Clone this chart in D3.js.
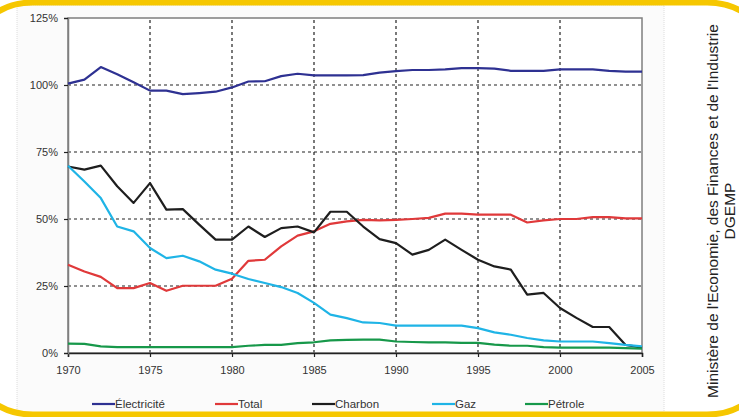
<!DOCTYPE html>
<html>
<head>
<meta charset="utf-8">
<script src="https://cdn.jsdelivr.net/npm/d3@7"></script>
<style>
  html, body { margin: 0; padding: 0; background: #ffffff; }
  svg { display: block; }
</style>
</head>
<body>
<script>
// Years and series (share, in %)
const years = d3.range(1970, 2006);
const electricite = [100.5, 102, 106.7, 104, 101, 97.9, 97.9, 96.6, 97, 97.5, 99.1, 101.3, 101.4, 103.3, 104.2, 103.6, 103.6, 103.6, 103.7, 104.6, 105.2, 105.6, 105.6, 105.8, 106.3, 106.3, 106.1, 105.3, 105.3, 105.3, 105.8, 105.8, 105.8, 105.3, 105, 105];
const total = [32.9, 30.4, 28.4, 24.2, 24.2, 26.1, 23.2, 25.1, 25.1, 25.1, 27.7, 34.4, 34.8, 39.8, 43.8, 45.4, 48.2, 49.1, 49.7, 49.5, 49.7, 50, 50.4, 52, 52, 51.6, 51.6, 51.6, 48.7, 49.5, 50, 50, 50.7, 50.7, 50.2, 50.2];
const charbon = [69.6, 68.4, 69.9, 62.2, 56, 63.4, 53.5, 53.7, 47.9, 42.3, 42.3, 47.2, 43.3, 46.6, 47.2, 45, 52.7, 52.7, 47.2, 42.5, 41, 36.7, 38.5, 42.3, 38.5, 34.8, 32.3, 31.1, 21.8, 22.4, 16.8, 13.1, 9.7, 9.7, 3, 2];
const gaz = [69.9, 64, 57.8, 47.2, 45.4, 39.2, 35.4, 36.3, 34.2, 31.1, 29.6, 27.6, 26.1, 24.6, 22.4, 18.7, 14.3, 13, 11.4, 11.2, 10.2, 10.2, 10.2, 10.2, 10.2, 9.3, 7.7, 6.8, 5.6, 4.7, 4.3, 4.3, 4.3, 3.7, 3, 2.5];
const petrole = [3.5, 3.4, 2.5, 2.2, 2.2, 2.2, 2.2, 2.2, 2.2, 2.2, 2.2, 2.7, 3, 3, 3.7, 4, 4.7, 4.9, 5, 5, 4.3, 4.1, 4, 4, 3.8, 3.8, 3.1, 2.7, 2.7, 2.2, 2, 2, 2, 2, 1.8, 1.6];

const xTicks = [1970, 1975, 1980, 1985, 1990, 1995, 2000, 2005];
const yTicks = [0, 25, 50, 75, 100, 125];

const seriesNames = ["Électricité", "Total", "Charbon", "Gaz", "Pétrole"];
const seriesColors = ["#2e3192", "#e0393a", "#1e1e1e", "#1fb4e6", "#17984a"];
const seriesValues = [electricite, total, charbon, gaz, petrole];

const W = 739, H = 417;
const margin = { left: 68, right: 97, top: 18, bottom: 64 };
const font = "'Liberation Sans', Arial, sans-serif";

const svg = d3.select("body").append("svg")
  .attr("width", W).attr("height", H);

// Light panel behind the chart
svg.append("rect")
  .attr("x", 17).attr("y", 5).attr("width", 647).attr("height", 408)
  .attr("fill", "#fbfbfb")
  .attr("stroke", "#dcdcdc").attr("stroke-width", 1)
  .attr("stroke-dasharray", "1,1");

// Yellow rounded border
svg.append("rect")
  .attr("x", -22).attr("y", 2.5).attr("width", 784).attr("height", 412)
  .attr("rx", 55).attr("ry", 40)
  .attr("fill", "none")
  .attr("stroke", "#f6c700").attr("stroke-width", 6);

const x = d3.scaleLinear().domain([1970, 2005]).range([margin.left, W - margin.right]);
const y = d3.scaleLinear().domain([0, 125]).range([H - margin.bottom, margin.top]);

// Plot background
svg.append("rect")
  .attr("x", x(1970)).attr("y", y(125))
  .attr("width", x(2005) - x(1970)).attr("height", y(0) - y(125))
  .attr("fill", "#ffffff");

// Grid
const grid = svg.append("g").attr("stroke", "#222").attr("stroke-width", 1.2)
  .attr("stroke-dasharray", "3,3");
grid.selectAll("line.h").data(yTicks.filter(d => d > 0 && d < 125)).enter().append("line")
  .attr("x1", x(1970)).attr("x2", x(2005))
  .attr("y1", d => y(d)).attr("y2", d => y(d));
grid.selectAll("line.v").data(xTicks.filter(d => d > 1970 && d < 2005)).enter().append("line")
  .attr("x1", d => x(d)).attr("x2", d => x(d))
  .attr("y1", y(0)).attr("y2", y(125));

// Plot frame
svg.append("rect")
  .attr("x", x(1970)).attr("y", y(125))
  .attr("width", x(2005) - x(1970)).attr("height", y(0) - y(125))
  .attr("fill", "none").attr("stroke", "#7f7f7f").attr("stroke-width", 1.5);

// Axes
const xAxis = svg.append("g")
  .attr("transform", `translate(0,${y(0)})`)
  .call(d3.axisBottom(x).tickValues(xTicks).tickFormat(d3.format("d")).tickSize(4).tickPadding(9));
const yAxis = svg.append("g")
  .attr("transform", `translate(${x(1970)},0)`)
  .call(d3.axisLeft(y).tickValues(yTicks).tickFormat(d => d + "%").tickSize(4).tickPadding(6));
[xAxis, yAxis].forEach(a => {
  a.select(".domain").attr("stroke", "#222").attr("stroke-width", 1.5);
  a.selectAll(".tick line").attr("stroke", "#222").attr("stroke-width", 1.2);
  a.selectAll(".tick text")
    .attr("fill", "#333")
    .style("font-family", font)
    .style("font-size", "11px");
});
yAxis.select(".domain").attr("stroke", "#7f7f7f");

// Series lines
const line = d3.line()
  .x((d, i) => x(years[i]))
  .y(d => y(d));
seriesValues.forEach((vals, k) => {
  svg.append("path")
    .datum(vals)
    .attr("d", line)
    .attr("fill", "none")
    .attr("stroke", seriesColors[k])
    .attr("stroke-width", 2.2)
    .attr("stroke-linejoin", "round");
});

// Legend
const legendX = [92, 215, 312, 432, 525];
const legend = svg.append("g").attr("transform", "translate(0,404)");
seriesNames.forEach((name, k) => {
  legend.append("line")
    .attr("x1", legendX[k]).attr("x2", legendX[k] + 23)
    .attr("y1", 0).attr("y2", 0)
    .attr("stroke", seriesColors[k]).attr("stroke-width", 2.2);
  legend.append("text")
    .attr("x", legendX[k] + 23).attr("y", 4)
    .attr("fill", "#333")
    .style("font-family", font)
    .style("font-size", "11.5px")
    .text(name);
});

// Source note, rotated
const src = svg.append("g").attr("transform", "translate(718,211) rotate(-90)");
src.append("text")
  .attr("text-anchor", "middle").attr("x", 0).attr("y", 0)
  .attr("fill", "#222")
  .style("font-family", font)
  .style("font-size", "15.5px")
  .text("Ministère de l'Economie, des Finances et de l'Industrie");
src.append("text")
  .attr("text-anchor", "middle").attr("x", 0).attr("y", 17)
  .attr("fill", "#222")
  .style("font-family", font)
  .style("font-size", "15.5px")
  .text("DGEMP");
</script>
</body>
</html>
